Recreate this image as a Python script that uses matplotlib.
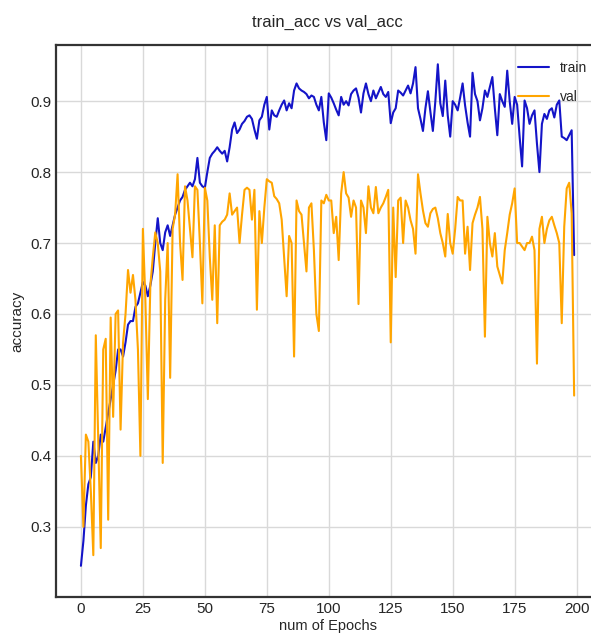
import numpy as np
import matplotlib
matplotlib.use('Agg')
import matplotlib.pyplot as plt

# values
train_acc = [
    0.245, 0.28, 0.33, 0.36, 0.37, 0.42, 0.39, 0.40, 0.43, 0.42,
    0.44, 0.46, 0.48, 0.50, 0.52, 0.55, 0.55, 0.54, 0.56, 0.585,
    0.59, 0.59, 0.61, 0.615, 0.63, 0.645, 0.64, 0.625, 0.64, 0.66,
    0.70, 0.735, 0.70, 0.69, 0.715, 0.725, 0.71, 0.725, 0.74, 0.75,
    0.76, 0.765, 0.775, 0.78, 0.785, 0.78, 0.79, 0.82, 0.785, 0.78,
    0.778, 0.80, 0.82, 0.826, 0.83, 0.835, 0.83, 0.826, 0.83, 0.815,
    0.835, 0.86, 0.87, 0.855, 0.86, 0.868, 0.872, 0.878, 0.88, 0.875,
    0.86, 0.847, 0.873, 0.878, 0.895, 0.906, 0.86, 0.887, 0.88, 0.878,
    0.887, 0.895, 0.901, 0.887, 0.897, 0.89, 0.915, 0.925, 0.918, 0.915,
    0.913, 0.91, 0.904, 0.908, 0.906, 0.895, 0.887, 0.906, 0.87, 0.845,
    0.911, 0.905, 0.897, 0.888, 0.88, 0.906, 0.895, 0.90, 0.894, 0.91,
    0.915, 0.918, 0.905, 0.884, 0.911, 0.925, 0.91, 0.90, 0.915, 0.904,
    0.912, 0.92, 0.91, 0.906, 0.913, 0.869, 0.884, 0.89, 0.915, 0.912,
    0.908, 0.915, 0.922, 0.911, 0.925, 0.948, 0.89, 0.875, 0.858, 0.89,
    0.914, 0.885, 0.858, 0.90, 0.952, 0.897, 0.879, 0.929, 0.88, 0.85,
    0.90, 0.895, 0.887, 0.905, 0.925, 0.894, 0.87, 0.85, 0.94, 0.91,
    0.90, 0.873, 0.89, 0.915, 0.906, 0.92, 0.934, 0.89, 0.852, 0.91,
    0.90, 0.892, 0.943, 0.90, 0.868, 0.906, 0.895, 0.85, 0.808, 0.901,
    0.89, 0.868, 0.88, 0.887, 0.84, 0.80, 0.868, 0.882, 0.875, 0.887,
    0.89, 0.877, 0.895, 0.901, 0.85, 0.848, 0.845, 0.852, 0.859, 0.683,
]

val_acc = [
    0.40, 0.30, 0.43, 0.42, 0.35, 0.26, 0.57, 0.42, 0.27, 0.55,
    0.565, 0.31, 0.595, 0.455, 0.60, 0.605, 0.437, 0.56, 0.60, 0.662,
    0.63, 0.655, 0.62, 0.55, 0.40, 0.72, 0.62, 0.48, 0.64, 0.68,
    0.715, 0.70, 0.66, 0.39, 0.62, 0.70, 0.51, 0.72, 0.74, 0.797,
    0.70, 0.648, 0.78, 0.76, 0.72, 0.68, 0.78, 0.775, 0.70, 0.615,
    0.778, 0.76, 0.68, 0.62, 0.725, 0.587, 0.725, 0.73, 0.733, 0.74,
    0.77, 0.74, 0.745, 0.75, 0.70, 0.74, 0.775, 0.778, 0.775, 0.733,
    0.775, 0.606, 0.745, 0.70, 0.75, 0.79, 0.787, 0.785, 0.766, 0.762,
    0.756, 0.733, 0.68, 0.625, 0.71, 0.70, 0.54, 0.76, 0.745, 0.74,
    0.70, 0.66, 0.75, 0.756, 0.69, 0.60, 0.576, 0.76, 0.756, 0.768,
    0.76, 0.76, 0.714, 0.737, 0.676, 0.77, 0.80, 0.77, 0.764, 0.737,
    0.76, 0.75, 0.614, 0.76, 0.75, 0.714, 0.78, 0.75, 0.742, 0.779,
    0.742, 0.75, 0.756, 0.765, 0.775, 0.56, 0.75, 0.652, 0.76, 0.764,
    0.70, 0.76, 0.75, 0.732, 0.72, 0.685, 0.797, 0.77, 0.746, 0.728,
    0.723, 0.742, 0.748, 0.75, 0.735, 0.714, 0.70, 0.681, 0.741, 0.70,
    0.685, 0.72, 0.765, 0.76, 0.76, 0.685, 0.723, 0.662, 0.728, 0.74,
    0.75, 0.765, 0.72, 0.568, 0.737, 0.70, 0.681, 0.714, 0.667, 0.655,
    0.643, 0.69, 0.714, 0.74, 0.756, 0.777, 0.70, 0.70, 0.695, 0.69,
    0.70, 0.70, 0.709, 0.69, 0.53, 0.72, 0.737, 0.70, 0.72, 0.732,
    0.737, 0.725, 0.714, 0.70, 0.587, 0.723, 0.777, 0.785, 0.742, 0.485,
]

epochs = np.arange(len(train_acc))

plt.style.use('seaborn-v0_8-whitegrid')
plt.rcParams['font.family'] = ['Liberation Sans', 'DejaVu Sans']

fig = plt.figure(figsize=(5.91, 6.41), dpi=100)
ax = fig.add_axes([0.0952, 0.0686, 0.918, 0.861])

ax.plot(epochs, train_acc, color='#1414c8', linewidth=1.5, label='train')
ax.plot(epochs, val_acc, color='orange', linewidth=1.5, label='val')

ax.set_xlim(-9.95, 208.95)
ax.set_ylim(0.201, 0.979)
ax.set_xticks([0, 25, 50, 75, 100, 125, 150, 175, 200])
ax.set_yticks([0.3, 0.4, 0.5, 0.6, 0.7, 0.8, 0.9])
ax.tick_params(labelsize=11)
ax.grid(True, color='#d9d9d9', linewidth=1.0)

for s in ax.spines.values():
    s.set_visible(True)
    s.set_color('#333333')
    s.set_linewidth(1.6)

ax.set_title('train_acc vs val_acc', fontsize=12, pad=13)
ax.set_xlabel('num of Epochs', fontsize=10.5, labelpad=2)
ax.set_ylabel('accuracy', fontsize=11)

fig.legend(loc='upper right', bbox_to_anchor=(1.015, 0.925),
           bbox_transform=fig.transFigure, frameon=False,
           fontsize=10, labelspacing=1.1, handlelength=2.2)

fig.savefig('out.png', dpi=100)
